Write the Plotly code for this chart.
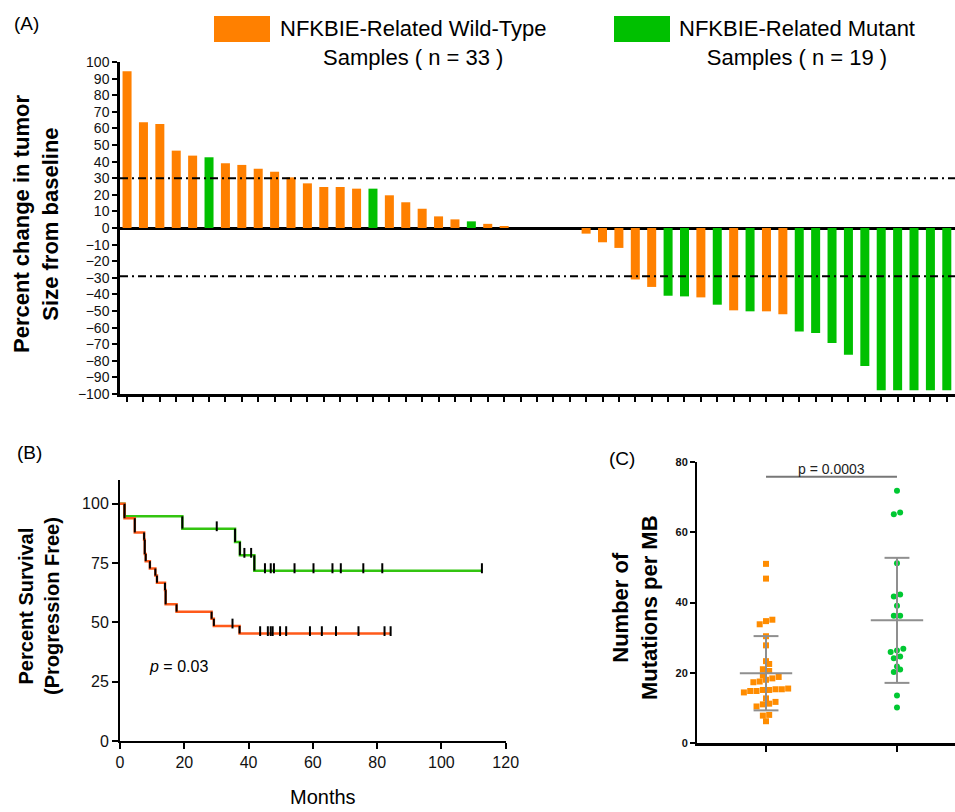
import numpy as np
import plotly.graph_objects as go

FONT = "Liberation Sans, Arial, sans-serif"

# ---------------- Panel A data (waterfall) ----------------
waterfall_values = [94.4, 63.7, 62.7, 46.6, 43.6, 42.6, 39.0, 38.0, 35.7, 33.9,
                    30.5, 26.9, 24.7, 24.7, 23.7, 23.7, 19.7, 15.5, 11.6, 7.0,
                    5.2, 4.0, 2.5, 1.0, 0, 0, 0, 0, -3.4, -8.6,
                    -12.0, -31.0, -35.5, -40.8, -41.2, -41.8, -46.2, -49.6, -50.2, -50.2,
                    -52.0, -62.4, -63.3, -69.3, -76.3, -83.1, -97.8, -97.8, -97.8, -97.8,
                    -97.8]
waterfall_groups = (["WT"] * 5 + ["MUT"] + ["WT"] * 9 + ["MUT"] + ["WT"] * 5 + ["MUT"]
                    + ["WT"] * 2 + ["WT"] * 4 + ["WT"] * 5 + ["MUT", "MUT", "WT", "MUT", "WT",
                    "MUT", "WT", "WT"] + ["MUT"] * 10)
threshold_lines = [30, -29]
a_yticks = list(range(-100, 101, 10))
legend_labels = ["NFKBIE-Related Wild-Type<br>Samples ( n = 33 )",
                 "NFKBIE-Related Mutant<br>Samples ( n = 19 )"]

# ---------------- Panel B data (Kaplan-Meier steps) ----------------
wt_step_t = [0, 1.4, 4.6, 7.5, 7.7, 8.0, 9.3, 11.0, 11.5, 14.0, 14.2, 17.6, 28.5, 29.2, 37.2]
wt_step_s = [100, 93.9, 87.9, 84.8, 78.8, 75.8, 72.7, 69.7, 66.7, 63.6, 57.6, 54.5, 51.5, 48.5, 45.3]
wt_censor_t = [35.0, 43.6, 46.0, 46.9, 47.5, 49.8, 51.7, 59.1, 62.8, 67.2, 74.2, 82.3, 84.2]

mut_step_t = [0, 1.4, 19.4, 35.8, 37.3, 41.8]
mut_step_s = [100, 94.7, 89.5, 83.9, 78.3, 71.8]
mut_censor_t = [30.1, 38.7, 40.8, 45.1, 46.9, 47.9, 54.3, 60.2, 66.1, 68.7, 75.7, 81.6, 112.6]

# ---------------- Panel C data (mutations per MB) ----------------
tmb_wt = [51.0, 46.8, 35.1, 34.7, 33.8, 30.4, 27.8, 23.3, 22.5, 21.0, 20.5, 19.2,
          18.8, 18.0, 17.3, 17.5, 18.4, 15.5, 15.1, 15.1, 14.8, 14.4, 14.8, 15.3,
          15.3, 12.7, 11.7, 11.0, 10.4, 11.2, 8.0, 7.8, 6.2]
tmb_mut = [71.8, 65.6, 65.1, 51.2, 42.3, 41.7, 39.1, 36.2, 36.2, 26.3, 26.8, 25.9,
           24.6, 24.1, 21.8, 20.9, 20.2, 13.5, 10.1]
p_text_c = "p = 0.0003"
p_text_b = "<i>p</i> = 0.03"

# ---------------- colours ----------------
A_COL = {"WT": "#ff8000", "MUT": "#00c000"}
B_WT, B_MUT = "#ff5a1a", "#33c410"
C_WT, C_MUT = "#ff8c00", "#00c832"
GREY = "#8f8f8f"

W, H = 955, 812
def px(x):
    return x / W
def py(y):
    return 1 - y / H

fig = go.Figure()

# ---- Panel A bars ----
positions = list(range(len(waterfall_values)))
fig.add_trace(go.Bar(x=positions, y=waterfall_values,
                     marker=dict(color=[A_COL[g] for g in waterfall_groups], line=dict(width=0)),
                     width=0.55, xaxis="x", yaxis="y", showlegend=False))

# ---- Panel B KM curves ----
def km_traces(times, surv, cens, color):
    end = max(max(cens), times[-1])
    xs = list(times) + [end]
    ys = list(surv) + [surv[-1]]
    fig.add_trace(go.Scatter(x=xs, y=ys, mode="lines", line=dict(color=color, width=2.5, shape="hv"),
                             xaxis="x2", yaxis="y2", showlegend=False, hoverinfo="skip"))
    vx, vy = [], []
    for i in range(1, len(times)):
        vx += [times[i], times[i], None]
        vy += [surv[i - 1], surv[i], None]
    fig.add_trace(go.Scatter(x=vx, y=vy, mode="lines", line=dict(color="black", width=2),
                             xaxis="x2", yaxis="y2", showlegend=False, hoverinfo="skip"))
    t_arr = np.asarray(times)
    lev = [surv[int(np.searchsorted(t_arr, c, side="right")) - 1] for c in cens]
    fig.add_trace(go.Scatter(x=cens, y=[l + 1.0 for l in lev], mode="markers",
                             marker=dict(symbol="line-ns", size=7, line=dict(width=2, color="black")),
                             xaxis="x2", yaxis="y2", showlegend=False, hoverinfo="skip"))

km_traces(mut_step_t, mut_step_s, mut_censor_t, B_MUT)
km_traces(wt_step_t, wt_step_s, wt_censor_t, B_WT)

# ---- Panel C swarm ----
def swarm(values, center, row_h=1.55, step=0.0483):
    vals = np.asarray(values, float)
    order = np.argsort(vals, kind="stable")
    xs = np.zeros(len(vals))
    rows, cur = [], [order[0]]
    for idx in order[1:]:
        if vals[idx] - vals[cur[0]] < row_h:
            cur.append(idx)
        else:
            rows.append(cur)
            cur = [idx]
    rows.append(cur)
    for r in rows:
        n = len(r)
        for k, idx in enumerate(r):
            xs[idx] = center + (k - (n - 1) / 2) * step
    return xs

for vals, cx, col, sym in [(tmb_wt, 0, C_WT, "square"), (tmb_mut, 1, C_MUT, "circle")]:
    xs = swarm(vals, cx)
    fig.add_trace(go.Scatter(x=xs, y=vals, mode="markers",
                             marker=dict(symbol=sym, size=6, color=col, line=dict(width=0)),
                             xaxis="x3", yaxis="y3", showlegend=False))
    m = float(np.mean(vals))
    sd = float(np.std(vals, ddof=1))
    hw, cw = 0.2, 0.095
    fig.add_trace(go.Scatter(x=[cx - hw, cx + hw, None, cx, cx, None, cx - cw, cx + cw, None, cx - cw, cx + cw],
                             y=[m, m, None, m - sd, m + sd, None, m + sd, m + sd, None, m - sd, m - sd],
                             mode="lines", line=dict(color=GREY, width=2),
                             xaxis="x3", yaxis="y3", showlegend=False, hoverinfo="skip"))

# ---------------- layout ----------------
axis_common = dict(showgrid=False, zeroline=False, showline=True, linecolor="black",
                   ticks="outside", tickcolor="black", mirror=False)

layout = dict(
    width=W, height=H, margin=dict(l=0, r=0, t=0, b=0),
    paper_bgcolor="white", plot_bgcolor="white", template="none",
    font=dict(family=FONT, color="black"),
    showlegend=False,
    xaxis=dict(axis_common, domain=[px(120), 1.0], range=[-0.43, 50.5], anchor="y",
               tickvals=positions, showticklabels=False, ticklen=5, tickwidth=2, linewidth=2.5),
    yaxis=dict(axis_common, domain=[py(394), py(62)], range=[-100, 100], anchor="x",
               tickvals=a_yticks, ticklen=5, tickwidth=2, linewidth=2.5,
               zeroline=True, zerolinecolor="black", zerolinewidth=2.5,
               tickfont=dict(size=14, family=FONT, color="#111")),
    xaxis2=dict(axis_common, domain=[px(120), px(505.7)], range=[0, 120], anchor="y2",
                tickvals=[0, 20, 40, 60, 80, 100, 120], ticklen=6, tickwidth=2, linewidth=2,
                tickfont=dict(size=16, family=FONT, color="#111")),
    yaxis2=dict(axis_common, domain=[py(741), py(480)], range=[0, 110], anchor="x2",
                tickvals=[0, 25, 50, 75, 100], ticklen=6, tickwidth=2, linewidth=2,
                tickfont=dict(size=16, family=FONT, color="#111")),
    xaxis3=dict(axis_common, domain=[px(697), 1.0], range=[-0.527, 1.443], anchor="y3",
                tickvals=[0, 1], showticklabels=False, ticklen=6, tickwidth=2, linewidth=2.5),
    yaxis3=dict(axis_common, domain=[py(743), py(462)], range=[0, 80], anchor="x3",
                tickvals=[0, 20, 40, 60, 80], ticklen=5, tickwidth=1.5, linewidth=2,
                tickfont=dict(size=11, family=FONT, color="#111", weight="bold")),
)
fig.update_layout(**layout)

shapes = []
for thr in threshold_lines:
    shapes.append(dict(type="line", xref="x domain", yref="y", x0=0, x1=1, y0=thr, y1=thr,
                       line=dict(color="black", width=2, dash="8px,4px,2px,4px")))
# legend swatches
shapes.append(dict(type="rect", xref="paper", yref="paper", x0=px(214), x1=px(270), y0=py(42), y1=py(16),
                   fillcolor=A_COL["WT"], line=dict(width=0)))
shapes.append(dict(type="rect", xref="paper", yref="paper", x0=px(614), x1=px(670), y0=py(42), y1=py(16),
                   fillcolor=A_COL["MUT"], line=dict(width=0)))
# p bracket panel C
shapes.append(dict(type="line", xref="x3", yref="y3", x0=0, x1=1, y0=75.8, y1=75.8,
                   line=dict(color="#777", width=2)))
fig.update_layout(shapes=shapes)

ann = []
def A(text, x, y, size, bold=False, angle=0, xanchor="center", **kw):
    ann.append(dict(text=text, x=x, y=y, xref="paper", yref="paper", showarrow=False,
                    textangle=angle, xanchor=xanchor, yanchor="middle",
                    font=dict(size=size, family=FONT, color="black",
                              weight="bold" if bold else "normal"), **kw))

A("(A)", px(12), py(23), 19, xanchor="left")
A("(B)", px(15), py(452), 19, xanchor="left")
A("(C)", px(607), py(458), 19, xanchor="left")
A(legend_labels[0], px(413), py(43), 22, align="center")
A(legend_labels[1], px(797), py(43), 22, align="center")
A("Percent change in tumor<br>Size from baseline", px(36), py(224), 22, bold=True, angle=-90)
A("Percent Survival<br>(Progression Free)", px(39), py(606), 20, bold=True, angle=-90)
A("Number of<br>Mutations per MB", px(635), py(608), 22, bold=True, angle=-90)
A("Months", px(323), py(797), 20)
A(p_text_b, px(147), py(666), 16, xanchor="left")
ann.append(dict(text=p_text_c, x=0.5, y=75.8, xref="x3", yref="y3", showarrow=False,
                xanchor="center", yanchor="bottom", yshift=-2,
                font=dict(size=14, family=FONT, color="#222")))
fig.update_layout(annotations=ann)

fig.write_html("out.html", config={"displayModeBar": False},
               post_script="document.body.style.margin='0';document.body.style.overflow='hidden';")
